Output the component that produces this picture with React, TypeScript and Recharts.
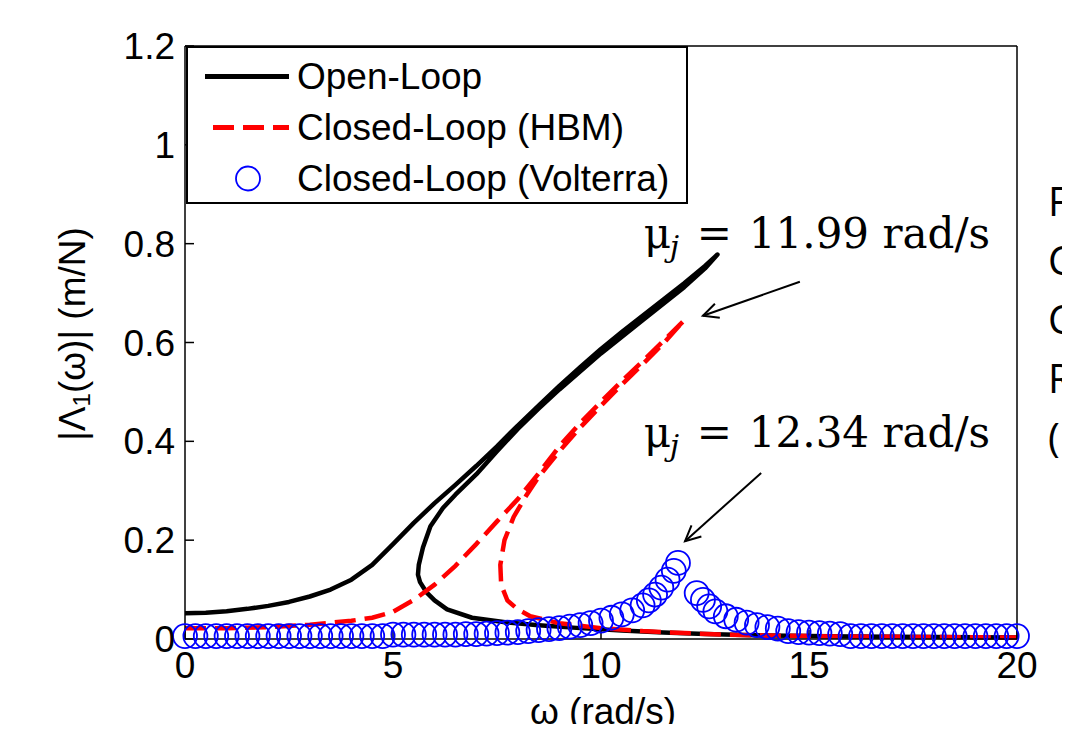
import React from "react";
import {
  ComposedChart,
  Line,
  Scatter,
  XAxis,
  YAxis,
  Legend,
  ReferenceLine,
  ReferenceDot,
} from "recharts";

// open-loop response (upper branch, fold back, lower branch)
const openLoopW = [
  0, 0.5, 1, 1.5, 2, 2.5, 3, 3.5, 4, 4.5, 5, 5.5, 6, 6.5, 7, 7.5, 8, 8.5, 9, 9.5, 10, 10.5, 11, 11.5, 12, 12.5, 12.8,
  12.5, 12, 11, 10, 9, 8.5, 8, 7.5, 7, 6.5, 6.2, 5.9, 5.72, 5.62, 5.6, 5.65,
  5.8, 6, 6.3, 6.9, 7.7, 8.5, 9.5, 10.5, 11.5, 12.5, 14, 16, 18, 20,
];
const openLoopAmp = [
  0.052, 0.053, 0.056, 0.061, 0.067, 0.075, 0.086, 0.1, 0.12, 0.15, 0.192, 0.235, 0.275, 0.312, 0.35, 0.39, 0.432,
  0.472, 0.512, 0.55, 0.587, 0.621, 0.654, 0.687, 0.72, 0.755, 0.778,
  0.75, 0.712, 0.645, 0.578, 0.505, 0.466, 0.425, 0.38, 0.333, 0.292, 0.265, 0.228, 0.185, 0.15, 0.13, 0.115,
  0.095, 0.078, 0.06, 0.043, 0.034, 0.028, 0.022, 0.017, 0.013, 0.01, 0.007, 0.005, 0.004, 0.003,
];

// closed-loop (HBM)
const hbmW = [
  0, 1, 2, 3, 3.5, 4, 4.5, 5, 5.5, 6, 6.5, 7, 7.5, 8, 8.5, 9, 9.5, 10, 10.5, 11, 11.5, 12,
  11.5, 11, 10.5, 10, 9.5, 9, 8.5, 8.2, 7.9, 7.68, 7.58, 7.6, 7.75,
  8, 8.3, 9, 10, 11, 12, 13, 14, 16, 18, 20,
];
const hbmAmp = [
  0.022, 0.022, 0.024, 0.029, 0.033, 0.037, 0.043, 0.055, 0.079, 0.11, 0.148, 0.192, 0.238, 0.283, 0.335, 0.39,
  0.437, 0.48, 0.522, 0.562, 0.603, 0.645,
  0.598, 0.556, 0.515, 0.472, 0.428, 0.38, 0.328, 0.29, 0.247, 0.2, 0.15, 0.11, 0.078,
  0.06, 0.046, 0.032, 0.022, 0.016, 0.012, 0.009, 0.007, 0.005, 0.004, 0.003,
];

// closed-loop (Volterra), markers only
const volterraW = [
  0, 0.25, 0.5, 0.75, 1, 1.25, 1.5, 1.75, 2, 2.25, 2.5, 2.75, 3, 3.25, 3.5, 3.75, 4, 4.25, 4.5, 4.75,
  5, 5.25, 5.5, 5.75, 6, 6.25, 6.5, 6.75, 7, 7.25, 7.5, 7.75, 8, 8.25, 8.5, 8.75, 9, 9.25, 9.5, 9.75,
  10, 10.25, 10.5, 10.75, 11, 11.15, 11.3, 11.45, 11.6, 11.75, 11.85,
  12.3, 12.45, 12.6, 12.75, 13, 13.25, 13.5, 13.75, 14, 14.25, 14.5, 14.75, 15, 15.25, 15.5, 15.75,
  16, 16.25, 16.5, 16.75, 17, 17.25, 17.5, 17.75, 18, 18.25, 18.5, 18.75, 19, 19.25, 19.5, 19.75, 20,
];
const volterraAmp = [
  0.006, 0.006, 0.006, 0.006, 0.006, 0.006, 0.006, 0.006, 0.006, 0.006, 0.006, 0.006, 0.006, 0.006, 0.006, 0.006,
  0.006, 0.006, 0.006, 0.006,
  0.009, 0.009, 0.009, 0.009, 0.009, 0.009, 0.009, 0.01, 0.01, 0.011, 0.012, 0.013, 0.014, 0.016, 0.018, 0.02,
  0.022, 0.025, 0.028, 0.032,
  0.037, 0.043, 0.05, 0.058, 0.068, 0.078, 0.09, 0.104, 0.12, 0.138, 0.154,
  0.093, 0.079, 0.066, 0.056, 0.046, 0.039, 0.033, 0.028, 0.024, 0.021, 0.016, 0.014, 0.013, 0.012, 0.011, 0.01,
  0.006, 0.006, 0.006, 0.006, 0.006, 0.006, 0.006, 0.006, 0.006, 0.006, 0.006, 0.006, 0.006, 0.006, 0.006, 0.006,
  0.006,
];

const xTicks = [0, 5, 10, 15, 20];
const yTicks = [0, 0.2, 0.4, 0.6, 0.8, 1, 1.2];
const seriesNames = ["Open-Loop", "Closed-Loop (HBM)", "Closed-Loop (Volterra)"];

// annotations in data units: where the text starts, arrow tail and head
const notes = [
  { text: "11.99 rad/s", at: [11.03, 0.791], tail: [14.78, 0.723], head: [12.45, 0.654] },
  { text: "12.34 rad/s", at: [11.03, 0.389], tail: [13.85, 0.336], head: [12.02, 0.198] },
];

// slide text cut off on the right edge
const sideLetters = ["F", "C", "C", "R", "("];

const toRows = (w: number[], amp: number[]) => w.map((x, i) => ({ w: x, amp: amp[i] }));
const openLoop = toRows(openLoopW, openLoopAmp);
const hbm = toRows(hbmW, hbmAmp);
const volterra = toRows(volterraW, volterraAmp);

const SANS = '"Liberation Sans", Arial, sans-serif';
const axisStroke = { stroke: "#000", strokeWidth: 1.5 };

function Arrow(props: any) {
  const { x1, y1, x2, y2 } = props;
  const ang = Math.atan2(y2 - y1, x2 - x1);
  const len = 17;
  const a1 = ang + Math.PI - 0.45;
  const a2 = ang + Math.PI + 0.45;
  const pts = `${x2 + len * Math.cos(a1)},${y2 + len * Math.sin(a1)} ${x2},${y2} ${x2 + len * Math.cos(a2)},${y2 + len * Math.sin(a2)}`;
  return (
    <g stroke="#000" strokeWidth={2} fill="none">
      <line x1={x1} y1={y1} x2={x2} y2={y2} />
      <polyline points={pts} />
    </g>
  );
}

const noteLabel = (text: string) => (p: any) => (
  <g fontFamily='"DejaVu Serif", serif' fill="#000">
    <text x={p.cx} y={p.cy} fontSize={42}>μ</text>
    <text x={p.cx + 26} y={p.cy + 9} fontSize={30} fontStyle="italic">j</text>
    <text x={p.cx + 53} y={p.cy} fontSize={42}>=</text>
    <text x={p.cx + 105} y={p.cy} fontSize={42}>{text}</text>
  </g>
);

const ring = (p: any) => (
  <circle cx={p.cx} cy={p.cy} r={12} fill="none" stroke="#0000ff" strokeWidth={1.8} />
);

function LegendBox() {
  return (
    <div
      style={{
        width: 502,
        height: 158,
        boxSizing: "border-box",
        border: "2px solid #000",
        background: "#fff",
        paddingTop: 2.5,
        fontFamily: SANS,
        fontSize: 37,
        color: "#000",
      }}
    >
      {seriesNames.map((name, i) => (
        <div key={name} style={{ display: "flex", alignItems: "center", height: 51 }}>
          <svg width={109} height={51} style={{ flex: "none" }}>
            {i === 0 && <line x1={17} x2={101} y1={25.5} y2={25.5} stroke="#000" strokeWidth={5} />}
            {i === 1 && (
              <line x1={25} x2={101} y1={25.5} y2={25.5} stroke="#ff0000" strokeWidth={5} strokeDasharray="21 9" />
            )}
            {i === 2 && <circle cx={60} cy={25.5} r={12} fill="none" stroke="#0000ff" strokeWidth={1.8} />}
          </svg>
          <span style={{ lineHeight: "51px", whiteSpace: "nowrap" }}>{name}</span>
        </div>
      ))}
    </div>
  );
}

const yLabel = () => (
  <text
    x={72}
    y={334}
    transform="rotate(-90, 72, 334)"
    textAnchor="middle"
    dominantBaseline="central"
    fontFamily={SANS}
    fontSize={37}
    fill="#000"
  >
    |Λ<tspan dy={9} fontSize={24}>1</tspan>
    <tspan dy={-9}>(ω)| (m/N)</tspan>
  </text>
);

const xLabel = () => (
  <text x={603} y={724} textAnchor="middle" fontFamily={SANS} fontSize={37} fill="#000">
    ω (rad/s)
  </text>
);

export default function App() {
  return (
    <div style={{ margin: -8, width: 1070, height: 732, position: "relative", overflow: "hidden", background: "#fff" }}>
      <ComposedChart width={1070} height={732} margin={{ top: 45, right: 52, bottom: 0, left: 0 }}>
        <XAxis
          type="number"
          dataKey="w"
          domain={[0, 20]}
          ticks={xTicks}
          interval={0}
          height={93}
          tickSize={-9}
          tickMargin={22}
          axisLine={axisStroke}
          tickLine={axisStroke}
          tick={{ fill: "#000", fontSize: 37, fontFamily: SANS }}
          label={xLabel}
        />
        <XAxis
          xAxisId="top"
          orientation="top"
          type="number"
          domain={[0, 20]}
          ticks={xTicks}
          interval={0}
          height={1}
          tickSize={-9}
          axisLine={axisStroke}
          tickLine={axisStroke}
          tick={false}
        />
        <YAxis
          type="number"
          domain={[0, 1.2]}
          ticks={yTicks}
          interval={0}
          width={185}
          tickSize={-9}
          tickMargin={19}
          axisLine={axisStroke}
          tickLine={axisStroke}
          tick={{ fill: "#000", fontSize: 37, fontFamily: SANS }}
          label={yLabel}
        />
        <YAxis
          yAxisId="right"
          orientation="right"
          type="number"
          domain={[0, 1.2]}
          ticks={yTicks}
          interval={0}
          width={1}
          tickSize={-9}
          axisLine={axisStroke}
          tickLine={axisStroke}
          tick={false}
        />
        <Line
          data={openLoop}
          dataKey="amp"
          name={seriesNames[0]}
          type="linear"
          stroke="#000"
          strokeWidth={4.5}
          strokeLinejoin="round"
          dot={false}
          activeDot={false}
          isAnimationActive={false}
        />
        <Line
          data={hbm}
          dataKey="amp"
          name={seriesNames[1]}
          type="linear"
          stroke="#ff0000"
          strokeWidth={4.5}
          strokeDasharray="21 9"
          dot={false}
          activeDot={false}
          isAnimationActive={false}
        />
        <Scatter
          data={volterra}
          dataKey="amp"
          name={seriesNames[2]}
          shape={ring}
          isAnimationActive={false}
        />
        {notes.map((n) => (
          <ReferenceLine
            key={n.text + "-arrow"}
            segment={[
              { x: n.tail[0], y: n.tail[1] },
              { x: n.head[0], y: n.head[1] },
            ]}
            shape={Arrow}
          />
        ))}
        {notes.map((n) => (
          <ReferenceDot key={n.text} x={n.at[0]} y={n.at[1]} r={0} shape={noteLabel(n.text)} />
        ))}
        <Legend
          layout="horizontal"
          verticalAlign="middle"
          align="center"
          content={() => <LegendBox />}
          wrapperStyle={{ left: 186, top: 46, width: 502, height: 158, margin: 0 }}
        />
      </ComposedChart>
      <div
        style={{
          position: "absolute",
          left: 1048,
          top: 171,
          fontFamily: '"Open Sans", sans-serif',
          fontSize: 40,
          lineHeight: "59px",
          color: "#000",
          whiteSpace: "nowrap",
        }}
      >
        {sideLetters.map((s, i) => (
          <div key={i}>{s}</div>
        ))}
      </div>
    </div>
  );
}
